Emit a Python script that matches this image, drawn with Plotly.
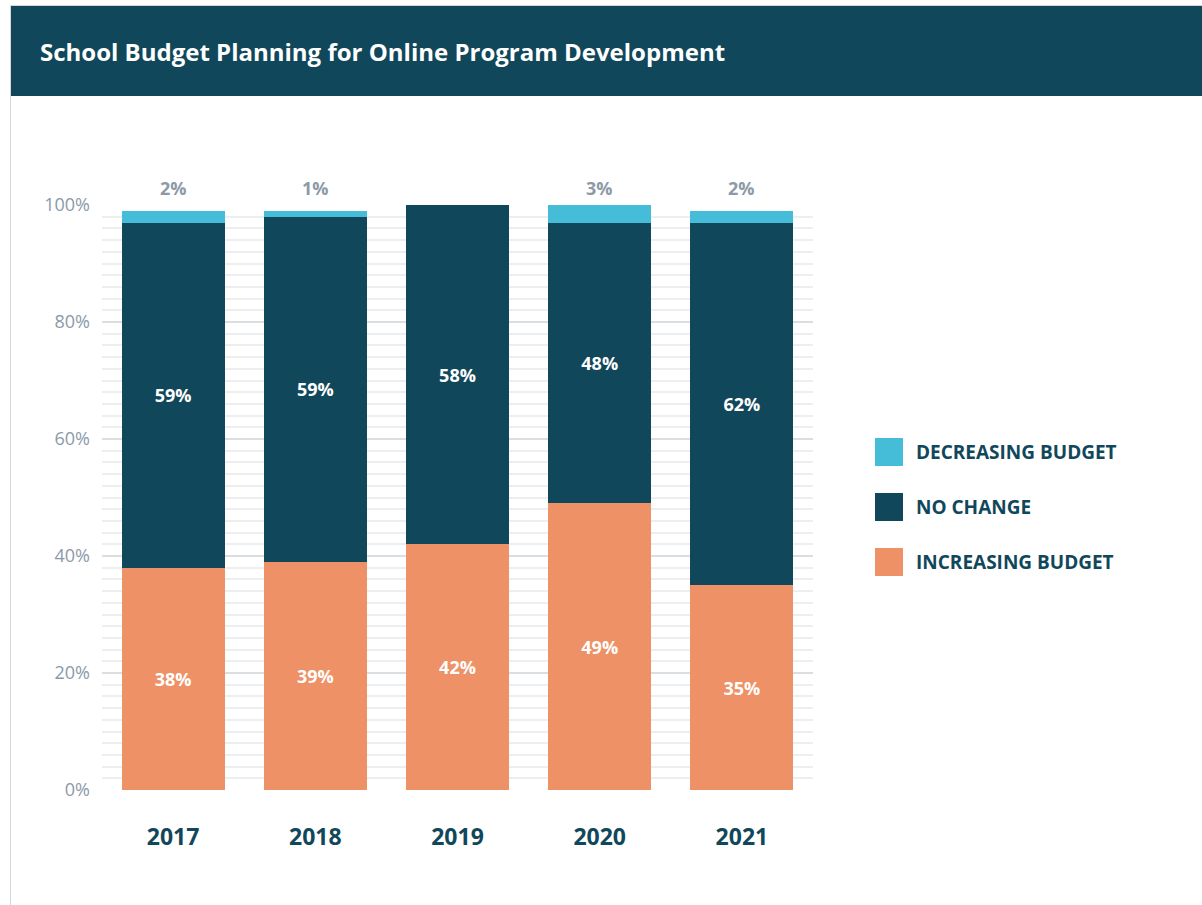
import plotly.graph_objects as go

years = ["2017", "2018", "2019", "2020", "2021"]
increasing = [38, 39, 42, 49, 35]
no_change = [59, 59, 58, 48, 62]
decreasing = [2, 1, 0, 3, 2]
series_names = ["DECREASING BUDGET", "NO CHANGE", "INCREASING BUDGET"]
y_ticks = [0, 20, 40, 60, 80, 100]
title_text = "School Budget Planning for Online Program Development"

W, H = 1202, 905
L, R, T, B = 102, 813, 205, 790  # plot area in pixels

TEAL = "#11475b"
BLUE = "#45bdd9"
ORANGE = "#ee9166"
GRAY = "#8c9aa8"
FONT = "Open Sans"


def px_x(px):
    return (px - L) / (R - L)


def px_y(py):
    return (B - py) / (B - T)


fig = go.Figure()
fig.add_bar(x=years, y=increasing, name=series_names[2], marker_color=ORANGE,
            text=[f"{v}%" for v in increasing], textposition="inside",
            insidetextanchor="middle",
            textfont=dict(color="white", size=18, family=FONT, weight="bold"))
fig.add_bar(x=years, y=no_change, name=series_names[1], marker_color=TEAL,
            text=[f"{v}%" for v in no_change], textposition="inside",
            insidetextanchor="middle",
            textfont=dict(color="white", size=18, family=FONT, weight="bold"))
fig.add_bar(x=years, y=decreasing, name=series_names[0], marker_color=BLUE,
            text=None)
fig.update_traces(marker_line_width=0, showlegend=False, hoverinfo="skip")

annotations = []
for i, d in enumerate(decreasing):
    if d > 0:
        annotations.append(dict(x=i, y=100, xref="x", yref="y", text=f"{d}%",
                                showarrow=False, yanchor="bottom", yshift=3,
                                font=dict(color=GRAY, size=18, family=FONT, weight="bold")))

shapes = [
    dict(type="rect", xref="paper", yref="paper",
         x0=px_x(10.5), x1=px_x(1205), y0=px_y(908), y1=px_y(5.5),
         line=dict(color="#d3d7db", width=1), fillcolor="rgba(0,0,0,0)", layer="below"),
    dict(type="rect", xref="paper", yref="paper",
         x0=px_x(11), x1=px_x(1205), y0=px_y(96), y1=px_y(6),
         line=dict(width=0), fillcolor=TEAL),
]

annotations.append(dict(x=px_x(38), y=px_y(51), xref="paper", yref="paper",
                        text=title_text, showarrow=False, xanchor="left", yanchor="middle",
                        font=dict(color="white", size=24, family=FONT, weight="bold")))

legend_colors = [BLUE, TEAL, ORANGE]
legend_y = [452, 507, 562]
for name, col, cy in zip(series_names, legend_colors, legend_y):
    shapes.append(dict(type="rect", xref="paper", yref="paper",
                       x0=px_x(875), x1=px_x(903), y0=px_y(cy + 14), y1=px_y(cy - 14),
                       line=dict(width=0), fillcolor=col))
    annotations.append(dict(x=px_x(914), y=px_y(cy), xref="paper", yref="paper",
                            text=name, showarrow=False, xanchor="left", yanchor="middle",
                            font=dict(color=TEAL, size=19, family=FONT, weight="bold")))

fig.update_layout(
    width=W, height=H,
    barmode="stack", bargap=0.275,
    margin=dict(l=L, r=W - R, t=T, b=H - B, pad=0),
    paper_bgcolor="white", plot_bgcolor="white",
    showlegend=False,
    font=dict(family=FONT),
    shapes=shapes, annotations=annotations,
    xaxis=dict(type="category", range=[-0.5, len(years) - 0.5],
               showgrid=False, showline=False, zeroline=False, ticks="",
               ticklabelstandoff=31,
               tickfont=dict(color=TEAL, size=23, family=FONT, weight="bold"),
               fixedrange=True),
    yaxis=dict(range=[0, 100], tickmode="array", tickvals=y_ticks,
               ticktext=[f"{v}%" for v in y_ticks],
               showgrid=True, gridcolor="#d9dee3", gridwidth=2,
               zeroline=False, showline=False, ticks="",
               ticklabelstandoff=11,
               tickfont=dict(color=GRAY, size=18, family=FONT),
               minor=dict(dtick=2, showgrid=True, gridcolor="#eceef0", gridwidth=1.5),
               fixedrange=True),
)

fig.write_html("out.html", config={"displayModeBar": False},
               post_script="document.body.style.margin='0';")
